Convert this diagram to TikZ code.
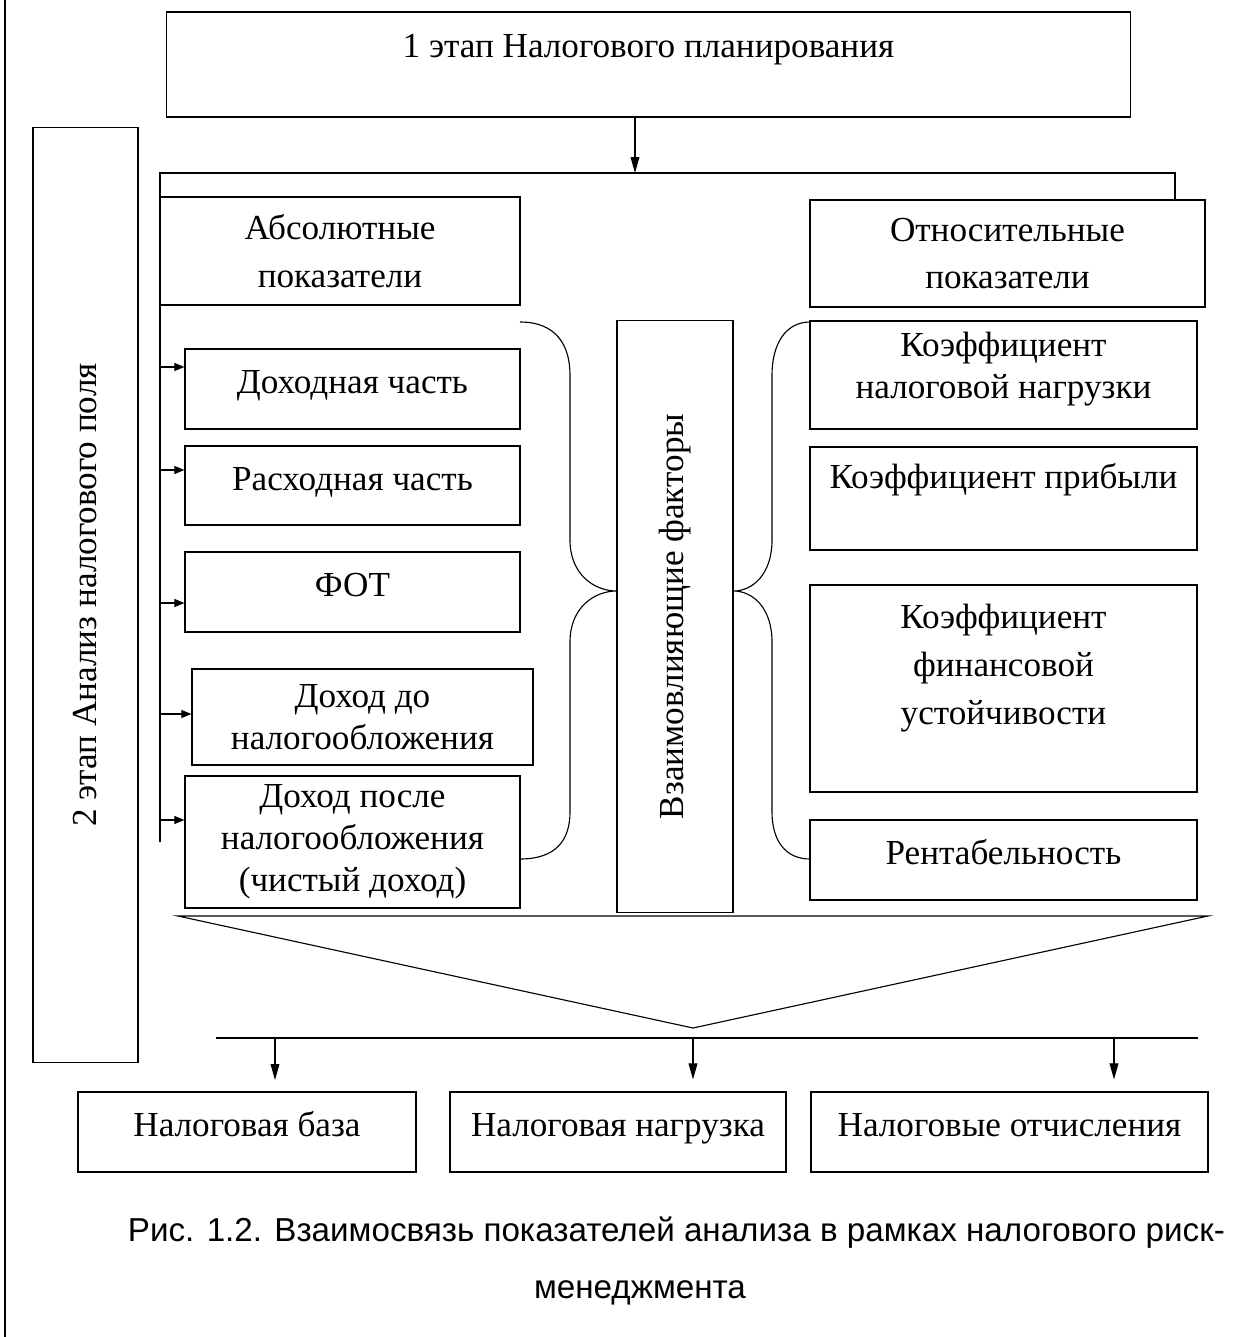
\documentclass[tikz,border=0pt]{standalone}
\usepackage{fontspec}
\setmainfont{Liberation Serif}
\newfontfamily\capfont{Liberation Sans}
\usetikzlibrary{arrows.meta, positioning, calc}

\begin{document}
\begin{tikzpicture}[x=0.025cm, y=-0.025cm,
  >={Triangle[length=0.4cm, width=0.22cm]},
  box/.style={draw, line width=0.8pt, inner sep=2pt, align=center,
              font=\fontsize{25}{30}\selectfont},
  one/.style={text height=0.9em, text depth=0.22em},
  txt/.style={align=center, font=\fontsize{25}{30}\selectfont},
  wide/.style={font=\fontsize{25}{34}\selectfont},
  link/.style={line width=0.8pt},
  tick/.style={->, line width=0.8pt, >={Triangle[length=0.25cm, width=0.2cm]}},
  captxt/.style={font=\capfont\fontsize{23.6}{30}\selectfont}]

\useasboundingbox (0,0) rectangle (1243,1337);

% page edge
\draw[link] (5,0) -- (5,1337);

% stage boxes
\node[box, minimum width=24.075cm, minimum height=2.625cm] (stage1) at (648.5,64.5) {};
\node[txt] (stage1txt) at (648.5,50) {1 этап Налогового планирования};
\node[box, rotate=90, minimum width=23.35cm, minimum height=2.625cm] (stage2) at (85.5,595)
  {2 этап Анализ налогового поля};

% groups
\node[box, wide, minimum width=9cm, minimum height=2.7cm] (abs) at (340,251)
  {Абсолютные\\показатели};
\node[box, wide, minimum width=9.875cm, minimum height=2.675cm] (rel) at (1007.5,253.5)
  {Относительные\\показатели};

% absolute indicators
\node[box, one, minimum width=8.375cm, minimum height=2cm] (inc) at (352.5,389) {Доходная часть};
\node[box, one, minimum width=8.375cm, minimum height=1.975cm] (exp) at (352.5,485.5) {Расходная часть};
\node[box, minimum width=8.375cm, minimum height=2cm] (fot) at (352.5,592) {};
\node[txt] (fottxt) at (352.5,585) {ФОТ};
\node[box, minimum width=8.525cm, minimum height=2.4cm] (pre) at (362.5,717)
  {Доход до\\налогообложения};
\node[box, minimum width=8.375cm, minimum height=3.3cm] (post) at (352.5,842)
  {Доход после\\налогообложения\\(чистый доход)};

% factors
\node[box, rotate=90, minimum width=14.775cm, minimum height=2.9cm] (fac) at (675,616.5)
  {Взаимовлияющие факторы};

% relative indicators
\node[box, minimum width=9.675cm, minimum height=2.7cm] (k1) at (1003.5,375) {};
\node[txt] (k1txt) at (1003.5,369) {Коэффициент\\налоговой нагрузки};
\node[box, minimum width=9.675cm, minimum height=2.575cm] (k2) at (1003.5,498.5) {};
\node[txt] (k2txt) at (1003.5,480) {Коэффициент прибыли};
\node[box, minimum width=9.675cm, minimum height=5.175cm] (k3) at (1003.5,688.5) {};
\node[txt, wide] (k3txt) at (1003.5,668) {Коэффициент\\финансовой\\устойчивости};
\node[box, one, minimum width=9.675cm, minimum height=2cm] (rent) at (1003.5,860) {Рентабельность};

% results
\node[box, one, minimum width=8.45cm, minimum height=2cm] (base) at (247,1132) {Налоговая база};
\node[box, one, minimum width=8.4cm, minimum height=2cm] (load) at (618,1132) {Налоговая нагрузка};
\node[box, one, minimum width=9.925cm, minimum height=2cm] (ded) at (1009.5,1132) {Налоговые отчисления};

% split under stage 1
\coordinate (split) at (635,173);
\coordinate (trunk) at (160,173);
\draw[->, link] (stage1.south -| split) -- (split);
\draw[link] (trunk |- post.west) -- (trunk) -- (1175,173) -- (1175,0 |- rel.north);

\draw[tick] (trunk |- 0,367) -- (inc.west |- 0,367);
\draw[tick] (trunk |- 0,470) -- (exp.west |- 0,470);
\draw[tick] (trunk |- 0,603) -- (fot.west |- 0,603);
\draw[tick] (trunk |- 0,714) -- (pre.west |- 0,714);
\draw[tick] (trunk |- 0,820) -- (post.west |- 0,820);

% braces
\coordinate (ltip) at (fac.north |- 0,591);
\coordinate (rtip) at (fac.south |- 0,591);
\draw[link] (520,322) .. controls (556,322) and (570,345) .. (570,375) -- (570,540)
  .. controls (570,575) and (595,591) .. (ltip)
  .. controls (595,591) and (570,607) .. (570,642) -- (570,812)
  .. controls (570,840) and (556,859) .. (520,859);
\draw[link] (810,322) .. controls (785,322) and (772,345) .. (772,375) -- (772,540)
  .. controls (772,575) and (752,591) .. (rtip)
  .. controls (752,591) and (772,607) .. (772,642) -- (772,812)
  .. controls (772,840) and (785,859) .. (810,859);

% funnel
\coordinate (apex) at (693,1028);
\draw[link] (178,916) -- (1208,916) -- (apex) -- cycle;
\draw[link] (216,1038) -- (1198,1038);
\draw[->, link, shorten >=0.3cm] (base.north |- 0,1038) ++(28,0) -- ++(0,54);
\draw[->, link, shorten >=0.3cm] (apex |- 0,1038) -- (apex |- load.north);
\draw[->, link, shorten >=0.3cm] (1114,1038) -- (1114,0 |- ded.north);

% caption
\node[captxt, anchor=west] (cap1) at (123,1233)
  {Рис. 1.2. Взаимосвязь показателей анализа в рамках налогового риск-};
\node[captxt] (cap2) at (640,1293) {менеджмента};

\end{tikzpicture}
\end{document}
